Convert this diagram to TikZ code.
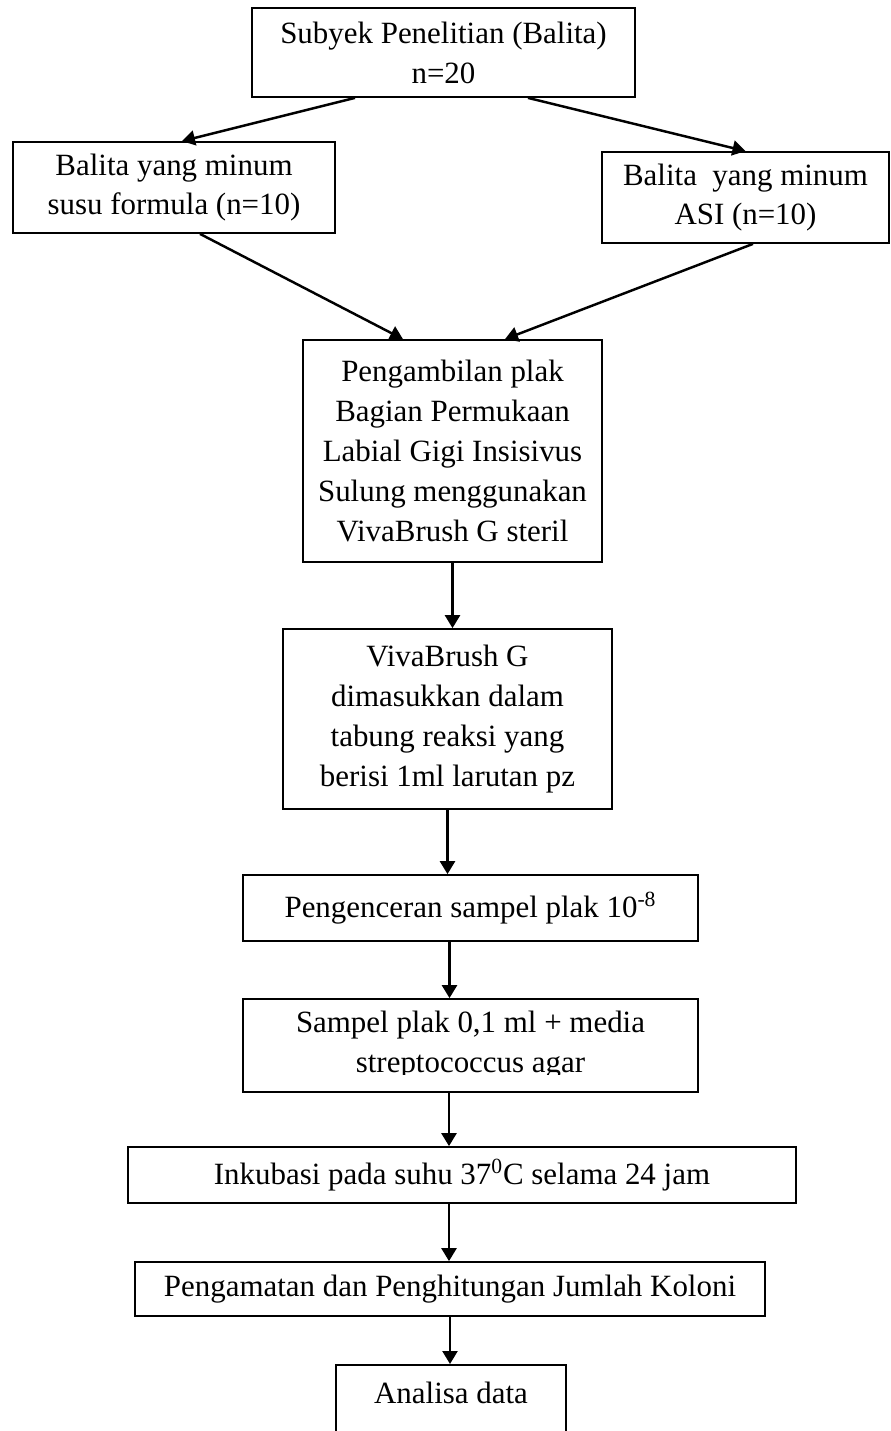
\documentclass[tikz,border=0pt]{standalone}
\usepackage{fontspec}
\setmainfont{Liberation Serif}
\usetikzlibrary{shapes,arrows.meta}

\begin{document}
\begin{tikzpicture}

% gaya kotak dan panah
\tikzstyle{box} = [rectangle, draw=black, line width=1pt, text centered, align=center, inner sep=0pt, font=\fontsize{17.6}{22.7}\selectfont]
\tikzstyle{arrow} = [line width=1.4pt, -{Triangle[length=2.6mm, width=3mm]}]

\useasboundingbox (0,0) rectangle (17.82,-28.62);
\clip (0,0) rectangle (17.82,-28.62);

% kotak-kotak
\node (subyek) [box, minimum width=7.66cm, minimum height=1.78cm] at (8.87,-1.05) {Subyek Penelitian (Balita)\\n=20};
\node (formula) [box, minimum width=6.44cm, minimum height=1.82cm] at (3.48,-3.75) {Balita yang minum\\susu formula (n=10)};
\node (asi) [box, minimum width=5.74cm, minimum height=1.82cm] at (14.91,-3.95) {Balita\ \ yang minum\\ASI (n=10)};
\node (pengambilan) [box, minimum width=5.98cm, minimum height=4.44cm] at (9.05,-9.02) {Pengambilan plak\\Bagian Permukaan\\Labial Gigi Insisivus\\Sulung menggunakan\\VivaBrush G steril};
\node (vivabrush) [box, minimum width=6.58cm, minimum height=3.6cm] at (8.95,-14.38) {VivaBrush G\\dimasukkan dalam\\tabung reaksi yang\\berisi 1ml larutan pz};
\node (pengenceran) [box, minimum width=9.1cm, minimum height=1.32cm] at (9.41,-18.16) {Pengenceran sampel plak 10\textsuperscript{-8}};
\node (sampel) [box, minimum width=9.1cm, minimum height=1.86cm] at (9.41,-20.91) {Sampel plak 0,1 ml + media\\streptococcus agar};
\fill [white] ([xshift=0.03cm,yshift=0.03cm]sampel.south west) rectangle ([xshift=-0.03cm,yshift=0.35cm]sampel.south east);
\node (inkubasi) [box, minimum width=13.36cm, minimum height=1.12cm] at (9.24,-23.5) {Inkubasi pada suhu 37\textsuperscript{0}C selama 24 jam};
\node (pengamatan) [box, minimum width=12.6cm, minimum height=1.08cm] at (9.0,-25.78) {Pengamatan dan Penghitungan Jumlah Koloni};
\node (analisa) [box, anchor=north, minimum width=4.6cm, text height=0.78cm, text depth=2cm] at (9.02,-27.28) {Analisa data};

% panah
\draw [arrow] ([xshift=-1.77cm]subyek.south) -- ([xshift=0.16cm]formula.north);
\draw [arrow] ([xshift=1.69cm]subyek.south) -- (asi.north);
\draw [arrow] ([xshift=0.52cm]formula.south) -- ([xshift=-0.99cm]pengambilan.north);
\draw [arrow] ([xshift=0.15cm]asi.south) -- ([xshift=1.05cm]pengambilan.north);
\draw [arrow] (pengambilan.south) -- (pengambilan.south |- vivabrush.north);
\draw [arrow] (vivabrush.south) -- (vivabrush.south |- pengenceran.north);
\draw [arrow] ([xshift=-0.42cm]pengenceran.south) -- ([xshift=-0.42cm]pengenceran.south |- sampel.north);
\draw [arrow] ([xshift=-0.43cm]sampel.south) -- ([xshift=-0.43cm]sampel.south |- inkubasi.north);
\draw [arrow] ([xshift=-0.26cm]inkubasi.south) -- ([xshift=-0.26cm]inkubasi.south |- pengamatan.north);
\draw [arrow] (pengamatan.south) -- (pengamatan.south |- analisa.north);
\end{tikzpicture}
\end{document}
